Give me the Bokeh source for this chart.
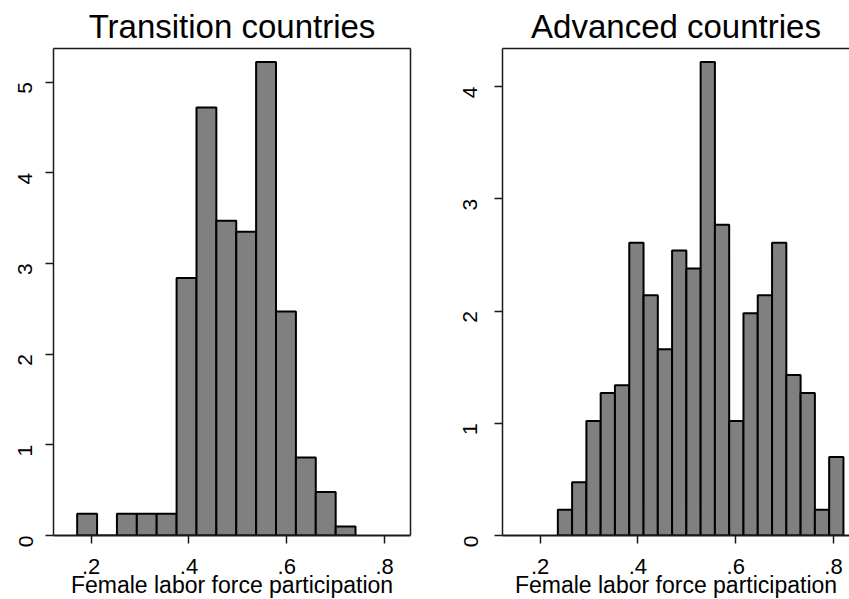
import math
from bokeh.plotting import figure
from bokeh.models import FixedTicker, LinearAxis, Range1d, Title, ColumnDataSource
from bokeh.layouts import row
from bokeh.embed import file_html
from bokeh.resources import INLINE

# ---- data ----
trans_edges = [0.1714, 0.2121, 0.2527, 0.2934, 0.3340, 0.3747, 0.4154, 0.4560,
               0.4967, 0.5373, 0.5780, 0.6187, 0.6593, 0.7000, 0.7406]
trans_density = [0.24, 0.0, 0.24, 0.24, 0.24, 2.84, 4.72, 3.47, 3.35, 5.22,
                 2.47, 0.86, 0.48, 0.10]

adv_edges = [0.2362, 0.2654, 0.2946, 0.3238, 0.3530, 0.3823, 0.4115, 0.4407,
             0.4699, 0.4991, 0.5283, 0.5575, 0.5867, 0.6159, 0.6451, 0.6744,
             0.7036, 0.7328, 0.7620, 0.7912, 0.8204]
adv_density = [0.23, 0.475, 1.02, 1.27, 1.34, 2.61, 2.14, 1.66, 2.54, 2.38,
               4.22, 2.77, 1.02, 1.98, 2.14, 2.61, 1.43, 1.27, 0.23, 0.70]

x_ticks = [0.2, 0.4, 0.6, 0.8]
x_tick_labels = [".2", ".4", ".6", ".8"]
trans_y_ticks = [0, 1, 2, 3, 4, 5]
adv_y_ticks = [0, 1, 2, 3, 4]

titles = ["Transition countries", "Advanced countries"]
x_label = "Female labor force participation"

FONT = "Liberation Sans"
AX = "#1a1a1a"
H = 599


def border_axis(p, side):
    ax = LinearAxis(ticker=FixedTicker(ticks=[], minor_ticks=[]),
                    major_tick_out=0, major_tick_in=0, minor_tick_out=0,
                    minor_tick_in=0, major_label_standoff=0,
                    axis_line_color=AX, axis_line_width=1.5)
    p.add_layout(ax, side)


def make_panel(title, edges, dens, y_ticks, y_end, x_end, width,
               border_left, border_right, offset, right_border, y_standoff):
    p = figure(width=width, height=H,
               x_range=Range1d(0.123, x_end), y_range=Range1d(0, y_end),
               output_backend="svg", toolbar_location=None,
               min_border_left=border_left, min_border_right=border_right,
               min_border_top=48, min_border_bottom=64)
    p.grid.visible = False
    p.outline_line_color = None
    p.background_fill_color = "white"
    p.border_fill_color = "white"

    src = ColumnDataSource(dict(left=edges[:-1], right=edges[1:], top=dens,
                                bottom=[0] * len(dens)))
    p.quad(left="left", right="right", top="top", bottom="bottom", source=src,
           fill_color="#808080", line_color="black", line_width=2)

    xa = p.xaxis[0]
    xa.ticker = FixedTicker(ticks=x_ticks, minor_ticks=[])
    xa.major_label_overrides = {t: l for t, l in zip(x_ticks, x_tick_labels)}
    xa.major_tick_out = 8
    xa.major_tick_in = 0
    xa.major_tick_line_color = AX
    xa.major_tick_line_width = 1.5
    xa.axis_line_color = AX
    xa.axis_line_width = 2
    xa.major_label_text_font = FONT
    xa.major_label_text_font_size = "22px"
    xa.major_label_text_color = "black"
    xa.major_label_standoff = 15

    ya = p.yaxis[0]
    ya.ticker = FixedTicker(ticks=y_ticks, minor_ticks=[])
    ya.major_label_orientation = math.pi / 2
    ya.major_tick_out = 8
    ya.major_tick_in = 0
    ya.major_tick_line_color = AX
    ya.major_tick_line_width = 1.5
    ya.axis_line_color = AX
    ya.axis_line_width = 1.5
    ya.major_label_text_font = FONT
    ya.major_label_text_font_size = "21px"
    ya.major_label_text_color = "black"
    ya.major_label_standoff = y_standoff

    border_axis(p, "above")
    if right_border:
        border_axis(p, "right")

    p.title.text = title
    p.title.align = "center"
    p.title.text_font = FONT
    p.title.text_font_size = "33px"
    p.title.text_font_style = "normal"
    p.title.text_color = "black"
    p.title.standoff = 7
    p.title.offset = offset

    p.add_layout(Title(text=x_label, align="center", text_font=FONT,
                       text_font_size="23px", text_font_style="normal",
                       text_color="black", standoff=-14, offset=offset), "below")
    return p


p1 = make_panel(titles[0], trans_edges, trans_density, trans_y_ticks, 5.37,
                0.853, 420, 53, 10, 0, True, 20)
p2 = make_panel(titles[1], adv_edges, adv_density, adv_y_ticks, 4.34,
                0.8328, 429, 82, 0, 5, False, 24)

layout = row(p1, p2)
open("out.html", "w").write(file_html(layout, INLINE))
